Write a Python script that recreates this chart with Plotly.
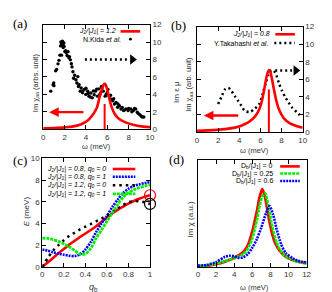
import plotly.graph_objects as go

W, H = 332, 292

# ---------------- data ----------------
# (a) theory J2/|J1| = 1.2
a_w = [0, 1, 2, 2.7, 3.5, 4.2, 4.6, 5.0, 5.3, 5.5, 5.65, 5.75, 5.85, 6.0, 6.2, 6.45, 6.7, 7.0, 7.6, 8.5, 9.4, 10]
a_chi = [0.1, 0.15, 0.22, 0.3, 0.55, 1.04, 1.6, 2.4, 3.8, 4.6, 5.1, 5.2, 5.1, 4.5, 3.44, 2.4, 1.75, 1.3, 0.85, 0.5, 0.3, 0.25]
a_delta_w = [5.75, 5.75]
a_delta_v = [0, 2.9]
# (a) N.Kida et al. experiment
kida_w = [0.70, 0.92, 0.98, 1.00, 1.16, 1.25, 1.38, 1.47, 1.56, 1.62, 1.65, 1.71, 1.71, 1.80, 1.83, 1.87, 1.93,
          1.95, 2.02, 2.10, 2.14, 2.23, 2.32, 2.40, 2.45, 2.54, 2.63, 2.69, 2.78, 2.84, 2.94, 3.06, 3.15, 3.24,
          3.30, 3.36, 3.46, 3.55, 3.67, 3.70, 3.85, 3.98, 4.00, 4.16, 4.20, 4.28, 4.40, 4.46, 4.59, 4.70, 4.77,
          4.89, 5.00, 5.08, 5.20, 5.30, 5.38, 5.45, 5.50, 5.63, 5.80, 5.90, 6.00, 6.06, 6.21, 6.30, 6.36, 6.51,
          6.60, 6.67, 6.82, 6.97, 7.00, 7.13, 7.28, 7.40, 7.52, 7.60, 7.74, 7.95, 8.00, 8.20, 8.30, 8.44, 8.55,
          8.66, 8.81, 8.90, 9.05, 9.20, 9.27, 9.42]
kida_v = [4.37, 5.10, 5.30, 5.00, 6.70, 6.86, 7.50, 7.90, 8.50, 9.56, 10.0, 8.50, 9.80, 10.1, 9.74, 9.37, 9.90,
          9.50, 8.93, 9.00, 8.80, 8.45, 8.90, 8.20, 8.33, 7.96, 7.52, 7.15, 6.60, 5.85, 6.20, 5.67, 5.30, 6.04,
          4.90, 5.10, 4.37, 4.74, 4.19, 4.40, 4.56, 4.00, 4.70, 4.37, 4.10, 3.80, 3.70, 4.15, 3.60, 4.40, 3.96,
          4.37, 4.60, 3.80, 4.63, 4.00, 4.20, 4.90, 4.74, 4.37, 3.80, 4.00, 4.20, 4.56, 3.80, 3.90, 3.44, 3.26,
          3.50, 2.89, 3.07, 2.52, 2.90, 2.70, 2.33, 2.50, 2.15, 2.20, 2.33, 2.15, 2.40, 2.33, 2.00, 2.15, 2.40,
          2.33, 1.96, 1.80, 1.67, 1.50, 1.41, 1.41]

# (b) theory J2/|J1| = 0.8
b_w = [0, 1, 2, 3, 4, 4.5, 5.0, 5.5, 5.9, 6.15, 6.36, 6.55, 6.7, 6.82, 6.95, 7.1, 7.28, 7.5, 7.75, 8.2, 8.8, 9.4, 10]
b_chi = [0.15, 0.2, 0.28, 0.4, 0.65, 0.9, 1.25, 1.8, 2.6, 3.6, 4.85, 6.1, 6.8, 7.05, 6.8, 6.0, 4.85, 3.6, 2.6, 1.6, 1.0, 0.7, 0.5]
b_delta_w = [6.8, 6.8]
b_delta_v = [0, 4.85]
# (b) Y.Takahashi et al. experiment
tak_w = [2.0, 2.35, 2.65, 2.96, 3.27, 3.58, 3.89, 4.2, 4.5, 4.97, 5.43, 5.9, 6.2, 6.5, 6.75, 7.0, 7.2, 7.44,
         7.75, 8.06, 8.37, 8.67, 8.98, 9.44, 9.9]
tak_v = [3.2, 4.1, 4.85, 5.03, 4.66, 4.1, 3.56, 3.0, 2.46, 2.28, 2.64, 3.2, 4.3, 5.58, 6.5, 7.0, 7.05, 6.68,
         5.58, 4.66, 3.93, 3.38, 2.83, 2.28, 1.73]

# (c) dispersions E(q_b)
qb = [0, 0.05, 0.1, 0.15, 0.2, 0.25, 0.3, 0.35, 0.4, 0.45, 0.5, 0.55, 0.6, 0.65, 0.7, 0.75, 0.8, 0.85, 0.9, 0.95, 1.0]
E_08_q0 = [0, 0.4, 0.82, 1.25, 1.65, 2.05, 2.4, 2.75, 3.08, 3.4, 3.75, 4.15, 4.55, 4.92, 5.25, 5.55, 5.82, 6.07, 6.28, 6.45, 6.6]
E_08_q1 = [1.6, 1.5, 1.35, 1.22, 1.12, 1.03, 1.0, 1.15, 1.6, 2.3, 3.2, 4.0, 4.7, 5.5, 6.2, 6.8, 7.2, 7.45, 7.6, 7.72, 7.8]
E_12_q0 = [0, 0.8, 1.5, 2.0, 2.45, 2.85, 3.15, 3.45, 3.7, 3.95, 4.2, 4.45, 4.75, 5.05, 5.38, 5.7, 5.95, 6.05, 6.05, 5.95, 5.8]
E_12_q1 = [2.65, 2.62, 2.52, 2.35, 2.12, 1.85, 1.52, 1.18, 1.2, 1.7, 2.65, 3.4, 4.2, 4.95, 5.75, 6.4, 6.85, 7.1, 7.3, 7.45, 7.55]
circ_q = [1.0, 1.0]
circ_E = [6.6, 5.8]

# (d) Im chi for various D_b
d_w = [0, 1, 2, 3, 4, 5, 5.5, 6, 6.5, 6.8, 7.1, 7.4, 7.8, 8.2, 8.6, 9, 9.5, 10, 11, 12]
d_D0 = [0.005, 0.01, 0.025, 0.05, 0.085, 0.14, 0.2, 0.33, 0.52, 0.65, 0.73, 0.66, 0.47, 0.31, 0.21, 0.155, 0.11, 0.08, 0.05, 0.035]
d_D025 = [0.01, 0.015, 0.03, 0.055, 0.08, 0.12, 0.17, 0.27, 0.44, 0.57, 0.66, 0.69, 0.56, 0.38, 0.25, 0.17, 0.115, 0.085, 0.05, 0.035]
d_w6 = [0, 1, 2, 3, 3.5, 4, 4.5, 5, 5.5, 6, 6.5, 7, 7.5, 7.9, 8.3, 8.7, 9.2, 9.7, 10.5, 11, 12]
d_D06 = [0.01, 0.02, 0.045, 0.095, 0.105, 0.1, 0.085, 0.09, 0.12, 0.18, 0.26, 0.37, 0.5, 0.57, 0.49, 0.35, 0.21, 0.13, 0.08, 0.06, 0.04]

# arrows (data coords): (tail_x, head_x, y)
a_red_arrow = (3.9, 0.55, 1.96)
a_blk_arrow = (3.9, 7.9, 8.0, 8.35)
b_red_arrow = (4.04, 0.65, 1.9)
b_blk_arrow = (7.4, 9.0, 7.0, 9.35)

# ---------------- style ----------------
RED = "#ff0000"
BLUE = "#0000ff"
GREEN = "#00ee00"
FONT = "Liberation Sans"
TXT = "#333333"


def px(x):
    return x / W


def py(y):
    return 1 - y / H


fig = go.Figure()


def line(x, y, xa, ya, color, width, dash="solid", shape="spline"):
    fig.add_trace(go.Scatter(x=x, y=y, xaxis=xa, yaxis=ya, mode="lines",
                             line=dict(color=color, width=width, dash=dash, shape=shape, smoothing=0.8),
                             showlegend=False, hoverinfo="skip"))


# (a)
fig.add_trace(go.Scatter(x=kida_w, y=kida_v, xaxis="x", yaxis="y", mode="markers",
                         marker=dict(color="black", size=3.4), showlegend=False))
line(a_w, a_chi, "x", "y", RED, 2.6)
line(a_delta_w, a_delta_v, "x", "y", RED, 2, shape="linear")
line([a_blk_arrow[0], a_blk_arrow[1]], [a_blk_arrow[2]] * 2, "x", "y", "black", 2.5, "2px,3px", "linear")
fig.add_trace(go.Scatter(x=[a_blk_arrow[3]], y=[a_blk_arrow[2]], xaxis="x", yaxis="y", mode="markers",
                         marker=dict(symbol="triangle-right", size=9, color="black"), showlegend=False))

# (b)
line(tak_w, tak_v, "x2", "y2", "black", 2.5, "2px,3px")
line(b_w, b_chi, "x2", "y2", RED, 2.6)
line(b_delta_w, b_delta_v, "x2", "y2", RED, 2, shape="linear")
line([b_blk_arrow[0], b_blk_arrow[1]], [b_blk_arrow[2]] * 2, "x2", "y2", "black", 2.5, "2px,3px", "linear")
fig.add_trace(go.Scatter(x=[b_blk_arrow[3]], y=[b_blk_arrow[2]], xaxis="x2", yaxis="y2", mode="markers",
                         marker=dict(symbol="triangle-right", size=9, color="black"), showlegend=False))

# (c)
line(qb, E_08_q0, "x3", "y3", RED, 2.6)
line(qb, E_08_q1, "x3", "y3", BLUE, 2.6, "2px,1px")
line(qb, E_12_q0, "x3", "y3", "black", 2.5, "2.5px,4px")
line(qb, E_12_q1, "x3", "y3", GREEN, 2.8, "3px,1px")
fig.add_trace(go.Scatter(x=circ_q, y=circ_E, xaxis="x3", yaxis="y3", mode="markers", cliponaxis=False,
                         marker=dict(symbol="circle-open", size=11, color=[RED, "black"], line=dict(width=1.2)),
                         showlegend=False))

# (d)
line(d_w, d_D0, "x4", "y4", RED, 2.8)
line(d_w, d_D025, "x4", "y4", GREEN, 2.8, "3px,1px")
line(d_w6, d_D06, "x4", "y4", BLUE, 2.6, "2px,1px")

# ---------------- axes ----------------
common = dict(showgrid=False, zeroline=False, showline=True, linecolor="black", linewidth=1,
              ticks="inside", ticklen=4, tickcolor="black", mirror="ticks",
              tickfont=dict(family=FONT, size=8, color=TXT))

fig.update_layout(
    width=W, height=H, margin=dict(l=0, r=0, t=0, b=0),
    paper_bgcolor="white", plot_bgcolor="white",
    xaxis=dict(common, domain=[px(34), px(143)], range=[0, 10], dtick=2, anchor="y"),
    yaxis=dict(common, domain=[py(121), py(13)], range=[0, 12], dtick=2, side="right", anchor="x"),
    xaxis2=dict(common, domain=[px(191), px(299)], range=[0, 10], dtick=2, anchor="y2"),
    yaxis2=dict(common, domain=[py(124), py(15)], range=[0, 12], dtick=2, side="right", anchor="x2"),
    xaxis3=dict(common, domain=[px(33), px(143)], range=[0, 1], dtick=0.2, anchor="y3"),
    yaxis3=dict(common, domain=[py(263), py(151)], range=[0, 10], dtick=2, anchor="x3"),
    xaxis4=dict(common, domain=[px(192), px(303)], range=[0, 12], dtick=2, anchor="y4"),
    yaxis4=dict(common, domain=[py(263), py(153)], range=[0, 1], ticks="", showticklabels=False,
                mirror=True, anchor="x4"),
)

ann = []


def text(x, y, s, size=8, angle=0, xanchor="center", family=FONT, color=TXT):
    ann.append(dict(x=px(x), y=py(y), xref="paper", yref="paper", text=s, showarrow=False,
                    textangle=angle, xanchor=xanchor, yanchor="middle",
                    font=dict(family=family, size=size, color=color)))


# panel labels
for lbl, x, y in [("(a)", 10, 12), ("(b)", 172, 14), ("(c)", 10, 153), ("(d)", 170, 152)]:
    text(x, y, lbl, size=13, family="Liberation Serif", color="black")

# axis titles
text(88, 139, "ω (meV)", size=7.5)
text(26, 73, "Im χ<sub>aa</sub> (arbs. unit)", size=7.5, angle=-90)
text(170, 82, "Im ε μ", angle=-90)
text(250, 143, "ω (meV)", size=7.5)
text(183, 75, "Im χ<sub>aa</sub> (arb. unit)", size=7.5, angle=-90)
text(325, 81, "Im ε μ", angle=-90)
text(17, 206, "<i>E</i> (meV)", angle=-90)
text(85, 284, "<i>q</i><sub>b</sub>", size=9)
text(184, 214, "Im χ (a.u.)", angle=-90)
text(250, 284, "ω (meV)", size=7.5)

# legends
shapes = []


def sample(x0, x1, y, color, width, dash="solid"):
    shapes.append(dict(type="line", xref="paper", yref="paper", x0=px(x0), x1=px(x1), y0=py(y), y1=py(y),
                       line=dict(color=color, width=width, dash=dash)))


LS = 7
text(110, 20, "<i>J<sub>2</sub>/|J<sub>1</sub>| = 1.2</i>", LS, xanchor="right", color="black")
sample(113, 133, 20, RED, 2.6)
text(115, 28, "N.Kida <i>et al.</i>", LS, xanchor="right", color="black")
shapes.append(dict(type="circle", xref="paper", yref="paper", x0=px(121.5), x1=px(124.5), y0=py(29.5),
                   y1=py(26.5), fillcolor="black", line=dict(width=0)))

text(268, 23, "<i>J<sub>2</sub>/|J<sub>1</sub>| = 0.8</i>", LS, xanchor="right", color="black")
sample(271, 291, 23, RED, 2.6)
text(266, 32, "Y.Takahashi <i>et al.</i>", LS, xanchor="right", color="black")
sample(270, 291, 32, "black", 2.5, "2px,3px")

c_rows = [("0.8", "0", RED, "solid"), ("0.8", "1", BLUE, "2px,1px"),
          ("1.2", "0", "black", "2.5px,4px"), ("1.2", "1", GREEN, "3px,1px")]
for (j, q0, col, dsh), yy in zip(c_rows, [162, 170, 178.7, 187.7]):
    text(100, yy, f"<i>J<sub>2</sub>/|J<sub>1</sub>| = {j}, q<sub>0</sub> = {q0}</i>", LS, xanchor="right",
         color="black")
    sample(105, 128, yy, col, 2.6, dsh)

d_rows = [("0", RED, "solid"), ("0.25", GREEN, "3px,1px"), ("0.6", BLUE, "2px,1px")]
for (dv, col, dsh), yy in zip(d_rows, [159.3, 166.7, 174.3]):
    text(271, yy, f"D<sub>b</sub>/|J<sub>1</sub>| = {dv}", LS, xanchor="right", color="black")
    sample(276, 296, yy, col, 2.6, dsh)

# arrows
for (tail, head, yv), xr, yr in [(a_red_arrow, "x", "y"), (b_red_arrow, "x2", "y2")]:
    ann.append(dict(x=head, y=yv, ax=tail, ay=yv, xref=xr, yref=yr, axref=xr, ayref=yr, text="",
                    showarrow=True, arrowhead=2, arrowsize=0.8, arrowwidth=2.4, arrowcolor=RED))

fig.update_layout(annotations=ann, shapes=shapes)
fig.write_html("out.html")
